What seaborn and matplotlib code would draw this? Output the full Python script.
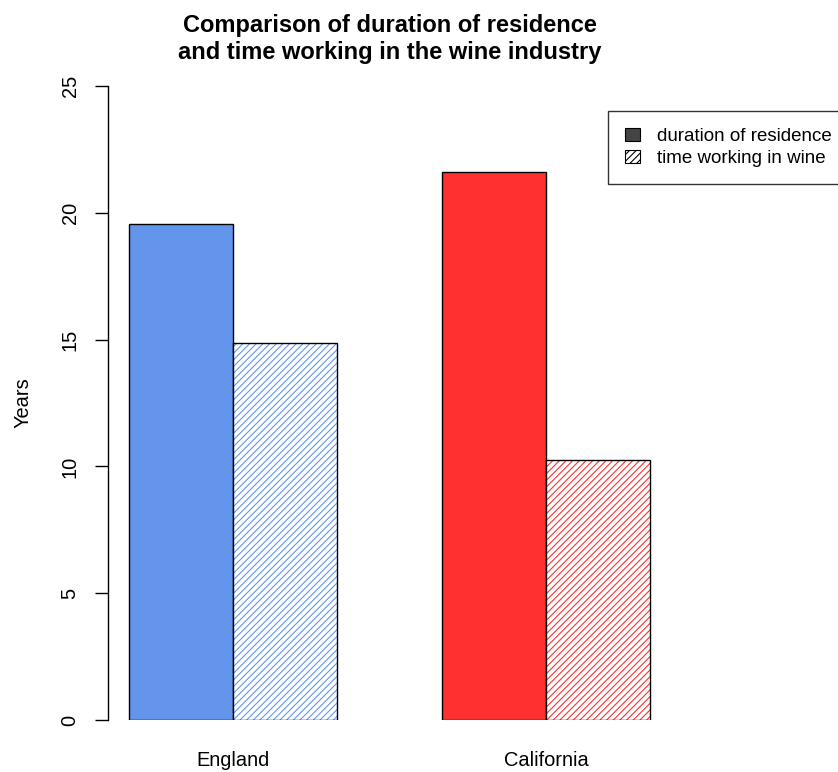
import matplotlib
matplotlib.use("Agg")
import matplotlib.pyplot as plt
import seaborn as sns
import pandas as pd
from matplotlib.patches import Patch, Rectangle

# ---- data ----
regions = ["England", "California"]
measures = ["duration of residence", "time working in wine"]
residence = [19.55, 21.6]
wine = [14.85, 10.25]
region_colors = {"England": "#6495ED", "California": "#FF3030"}
yticks = [0, 5, 10, 15, 20, 25]

df = pd.DataFrame({
    "region": regions * 2,
    "measure": [measures[0]] * 2 + [measures[1]] * 2,
    "value": residence + wine,
})

sns.set_style("white")
plt.rcParams["font.family"] = ["Liberation Sans", "DejaVu Sans"]
plt.rcParams["hatch.linewidth"] = 0.8
plt.rcParams["text.color"] = "black"
plt.rcParams["axes.labelcolor"] = "black"
plt.rcParams["xtick.color"] = "black"
plt.rcParams["ytick.color"] = "black"

fig = plt.figure(figsize=(8.38, 7.72), dpi=100)
ax = fig.add_axes([108 / 838, 52 / 772, 563 / 838, 634 / 772])

sns.barplot(data=df, x="region", y="value", hue="measure", order=regions,
            hue_order=measures, width=0.666, gap=0, dodge=True,
            palette=["#444444", "#ffffff"], edgecolor="black", linewidth=1,
            legend=False, ax=ax, errorbar=None, saturation=1)

# recolor: solid for residence, hatched for wine
for hi, cont in enumerate(ax.containers):
    for ri, patch in enumerate(cont.patches):
        col = region_colors[regions[ri]]
        if hi == 0:
            patch.set_facecolor(col)
            patch.set_edgecolor("black")
        else:
            patch.set_facecolor("white")
            patch.set_edgecolor(col)
            patch.set_hatch("/////")
            patch.set_linewidth(0)
            ax.add_patch(Rectangle((patch.get_x(), patch.get_y()),
                                   patch.get_width(), patch.get_height(),
                                   fill=False, edgecolor="black", linewidth=1,
                                   zorder=patch.get_zorder() + 0.1))

ax.set_xlim(-0.4, 1.4)
ax.set_ylim(0, 25)
ax.set_yticks(yticks)
ax.set_yticklabels([str(t) for t in yticks])
ax.tick_params(axis="y", length=9.5, width=1, color="black", pad=11,
               left=True, labelsize=14.4, labelcolor="black")
for lab in ax.get_yticklabels():
    lab.set_rotation(90)
    lab.set_va("center")
ax.tick_params(axis="x", length=0, pad=22, labelsize=14.4, labelcolor="black")
ax.set_xlabel("")
ax.set_ylabel("Years", fontsize=14.4, labelpad=20, color="black")

for s in ["top", "right", "bottom"]:
    ax.spines[s].set_visible(False)
ax.spines["left"].set_color("black")
ax.spines["left"].set_linewidth(1)

fig.suptitle("Comparison of duration of residence\nand time working in the wine industry",
             x=389.5 / 838, y=1 - 14 / 772, fontsize=17, fontweight="bold",
             va="top", linespacing=1.2, color="black")

handles = [Patch(facecolor="#444444", edgecolor="black", linewidth=0.8),
           Patch(facecolor="white", edgecolor="black", hatch="/////",
                 linewidth=0.8)]
leg = fig.legend(handles, measures, loc="upper left",
                 bbox_to_anchor=(608 / 838, 1 - 111 / 772),
                 frameon=True, fancybox=False, fontsize=13.5,
                 handlelength=0.8, handleheight=0.65, handletextpad=0.9,
                 borderpad=0.9, labelspacing=0.28, borderaxespad=0,
                 edgecolor="black")
leg.get_frame().set_linewidth(1)
for t in leg.get_texts():
    t.set_color("black")

fig.savefig("out.png", dpi=100)
